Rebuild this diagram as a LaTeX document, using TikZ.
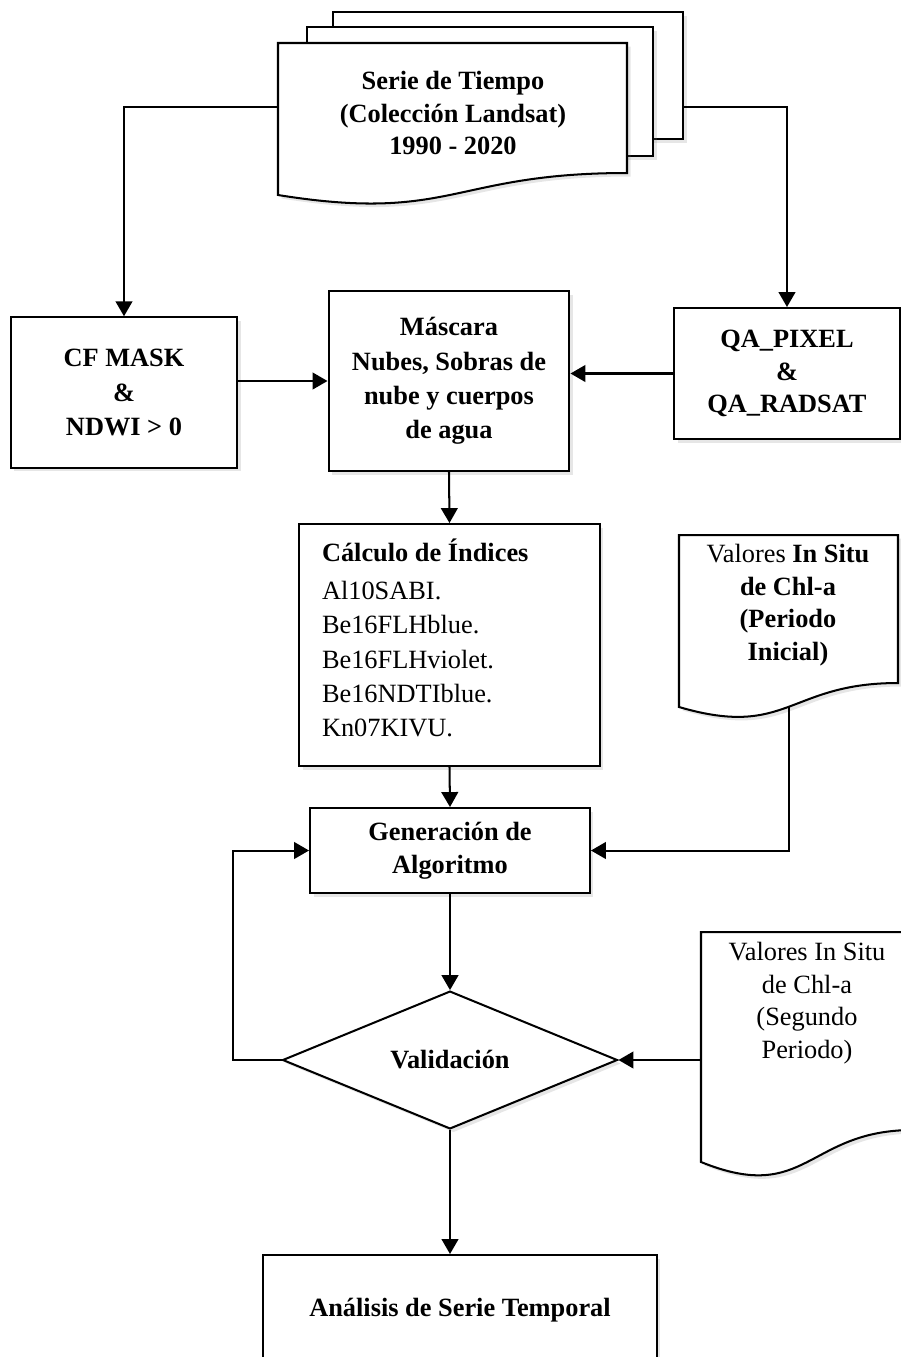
\documentclass[tikz,border=0pt]{standalone}
\usepackage{fontspec}
\setmainfont{Liberation Serif}
\usetikzlibrary{arrows.meta,shapes.geometric,shadows}

\begin{document}
\begin{tikzpicture}[x=0.02cm,y=-0.02cm,line width=1.15pt,
  shd/.style={drop shadow={opacity=0.2,shadow xshift=2pt,shadow yshift=-2pt}},
  box/.style={draw,fill=white,shd,align=center,inner sep=0pt,font=\fontsize{15}{19.5}\selectfont\bfseries},
  doc/.style={draw,fill=white,shd},
  txt/.style={align=center,inner sep=0pt,font=\fontsize{15}{18.5}\selectfont},
  flecha/.style={-{Triangle[length=8.5pt,width=9.5pt]}}]
\useasboundingbox (0,0) rectangle (901,1357);

% serie de tiempo
\draw[doc] (333,12) rectangle (683,139);
\draw[doc] (307,27) rectangle (653,156);
\draw[doc] (278,43) -- (627,43) -- (627,173) .. controls (452,173) and (452,223) .. (278,195) -- cycle;
\node[txt,font=\fontsize{15}{18.5}\selectfont\bfseries] (serie) at (453,113) {Serie de Tiempo\\(Colección Landsat)\\1990 - 2020};
\coordinate (serieL) at (278,107);
\coordinate (serieR) at (683,107);

% valores in situ
\draw[doc] (679,535) -- (898,535) -- (898,683) .. controls (788,683) and (788,739) .. (679,707) -- cycle;
\node[txt] (insitu1) at (788,605) {Valores \textbf{In Situ}\\\textbf{de Chl-a}\\\textbf{(Periodo}\\\textbf{Inicial)}};
\coordinate (insitu1b) at (789,707);
\draw[doc] (701,932) -- (913,932) -- (913,1130) .. controls (807,1130) and (807,1205) .. (701,1162) -- cycle;
\node[txt] (insitu2) at (807,1003) {Valores In Situ\\de Chl-a\\(Segundo\\Periodo)};
\coordinate (insitu2w) at (701,1060);

\node[box,minimum width=4.54cm,minimum height=3.01cm] (cf) at (124,392.5) {CF MASK\\\&\\NDWI > 0};
\node[box,minimum width=4.82cm,minimum height=3.6cm] (masc) at (449,381) {Máscara\\Nubes, Sobras de\\nube y cuerpos\\de agua};
\node[box,minimum width=4.52cm,minimum height=2.62cm,font=\fontsize{15}{18.5}\selectfont\bfseries] (qa) at (787,373.5) {QA\_PIXEL\\\&\\QA\_RADSAT};
\node[box,minimum width=6.02cm,minimum height=4.84cm] (calc) at (449.5,645) {};
\node[txt,align=left,anchor=west,font=\fontsize{15}{19.5}\selectfont] (indices) at (321,638) {\textbf{Cálculo de Índices}\\[2pt]Al10SABI.\\Be16FLHblue.\\Be16FLHviolet.\\Be16NDTIblue.\\Kn07KIVU.};
\node[box,font=\fontsize{15}{18.5}\selectfont\bfseries,minimum width=5.6cm,minimum height=1.7cm] (gen) at (450,850.5) {Generación de\\Algoritmo};
\node[box,diamond,minimum width=6.7cm,minimum height=2.74cm] (valid) at (450,1060) {Validación};
\node[box,minimum width=7.88cm,minimum height=2.2cm] (anal) at (460,1310) {Análisis de Serie Temporal};

\draw[flecha] (serieL) -| (cf.north);
\draw[flecha] (serieR) -| (qa.north);
\draw[flecha] (cf.east |- masc.west) -- (masc.west);
\draw[flecha] (qa.west) -- (masc.east |- qa.west);
\draw[flecha] (masc.south) -- (calc.north);
\draw[flecha] (calc.south) -- (gen.north);
\draw[flecha] (insitu1b) |- (gen.east);
\draw[flecha] (gen.south) -- (valid.north);
\draw[flecha] (valid.west) -- ++(-49,0) |- (gen.west);
\draw[flecha] (insitu2w) -- (valid.east);
\draw[flecha] (valid.south) -- (valid.south |- anal.north);
\end{tikzpicture}
\end{document}
